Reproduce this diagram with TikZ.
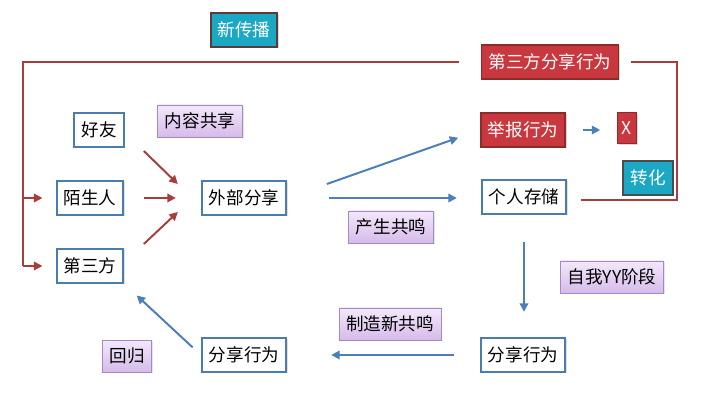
\documentclass[tikz,border=0pt]{standalone}
\usepackage{fontspec}
\setmainfont{Noto Sans CJK SC}
\usetikzlibrary{arrows.meta,shadows}
\definecolor{boxblue}{HTML}{4A7DAE}
\definecolor{lineblue}{HTML}{4C7EB8}
\definecolor{linered}{HTML}{A83D3C}
\definecolor{fillred}{HTML}{C8383E}
\definecolor{edgered}{HTML}{8B2B2B}
\definecolor{fillteal}{HTML}{1BA8C4}
\definecolor{edgeteal}{HTML}{5B3A3A}
\definecolor{lilactop}{HTML}{F4E8FB}
\definecolor{lilacbot}{HTML}{D6BBEA}
\definecolor{lilacedge}{HTML}{A38AC6}
\begin{document}
\begin{tikzpicture}[x=0.025cm,y=-0.025cm]
        % Styles
        \tikzstyle{every node}=[font=\fontsize{12.5pt}{15pt}\selectfont,minimum height=0.85cm,inner xsep=5pt]
        \tikzstyle{plain box}=[draw=boxblue,line width=1.4pt,fill=white,drop shadow={shadow xshift=1pt,shadow yshift=-1pt,opacity=0.25}]
        \tikzstyle{red box}=[draw=edgered,line width=1pt,fill=fillred,text=white,drop shadow={shadow xshift=1pt,shadow yshift=-1pt,opacity=0.3}]
        \tikzstyle{teal box}=[draw=edgeteal,line width=1.4pt,fill=fillteal,text=white,drop shadow={shadow xshift=1pt,shadow yshift=-1pt,opacity=0.3}]
        \tikzstyle{note}=[draw=lilacedge,line width=0.6pt,top color=lilactop,bottom color=lilacbot,minimum height=0.8cm,drop shadow={shadow xshift=1pt,shadow yshift=-1pt,opacity=0.2}]
        \tikzstyle{red line}=[linered,line width=1.4pt]
        \tikzstyle{red arrow}=[linered,line width=1.4pt,-{Triangle[length=6pt,width=6pt]}]
        \tikzstyle{blue arrow}=[lineblue,line width=1.4pt,-{Triangle[length=6pt,width=6pt]}]
        \useasboundingbox (0,0) rectangle (701,413);
        %boxes
        \node[teal box] (xcb) at (244,30) {新传播};
        \node[red box] (tsfx) at (550,62) {第三方分享行为};
        \node[plain box] (hy) at (99,130) {好友};
        \node[note] (nrgx) at (200,121) {内容共享};
        \node[plain box] (msr) at (90,198) {陌生人};
        \node[plain box] (wbfx) at (244,198) {外部分享};
        \node[red box] (jbxw) at (523,130) {举报行为};
        \node[red box,minimum height=0.78cm,inner xsep=3pt] (xx) at (627,128) {X};
        \node[teal box,draw=black!70] (zh) at (648,178) {转化};
        \node[plain box] (grcc) at (524,197) {个人存储};
        \node[note] (csgm) at (391,227) {产生共鸣};
        \node[plain box] (dsf) at (90,266) {第三方};
        \node[note] (zwyy) at (612,277) {自我YY阶段};
        \node[note] (zzgm) at (390,324) {制造新共鸣};
        \node[note] (hg) at (127,356) {回归};
        \node[plain box] (fxl) at (244,355) {分享行为};
        \node[plain box] (fxr) at (523,355) {分享行为};
        %red loops
        \coordinate (corner) at (23,62);
        \draw[red line,shorten <=0.55cm] (tsfx.west) -- (corner) -- (corner |- dsf.west);
        \draw[red arrow,shorten >=0.33cm] (corner |- msr.west) -- (msr.west);
        \draw[red arrow,shorten >=0.33cm] (corner |- dsf.west) -- (dsf.west);
        \draw[red line,shorten <=0.3cm,shorten >=0.35cm] (tsfx.east) -- ++(58,0) |- ([yshift=-0.08cm]grcc.east);
        %into outer sharing
        \coordinate (conv) at ([xshift=-0.2cm]wbfx.west);
        \draw[red arrow] (conv) ++(-49,-47) -- ++(34,33);
        \draw[red arrow] (conv) ++(-49,0) -- ++(32,0);
        \draw[red arrow] (conv) ++(-49,46) -- ++(34,-32);
        %blue flow
        \draw[blue arrow,shorten <=1.05cm,shorten >=0.58cm] (wbfx.east) -- (jbxw.west);
        \draw[blue arrow,shorten <=1.05cm,shorten >=0.6cm] (wbfx.east) -- (wbfx.east -| grcc.west);
        \draw[blue arrow,shorten <=0.42cm,shorten >=0.42cm] (jbxw.east) -- (xx.west |- jbxw.east);
        \draw[blue arrow,shorten <=0.68cm,shorten >=0.63cm] (grcc.south) -- (grcc.south |- fxr.north);
        \draw[blue arrow,shorten <=0.65cm,shorten >=1.1cm] (fxr.west) -- (fxl.east);
        \draw[blue arrow,shorten <=0.28cm,shorten >=0.42cm] (fxl.west) -- (dsf.south east);
    \end{tikzpicture}
\end{document}
